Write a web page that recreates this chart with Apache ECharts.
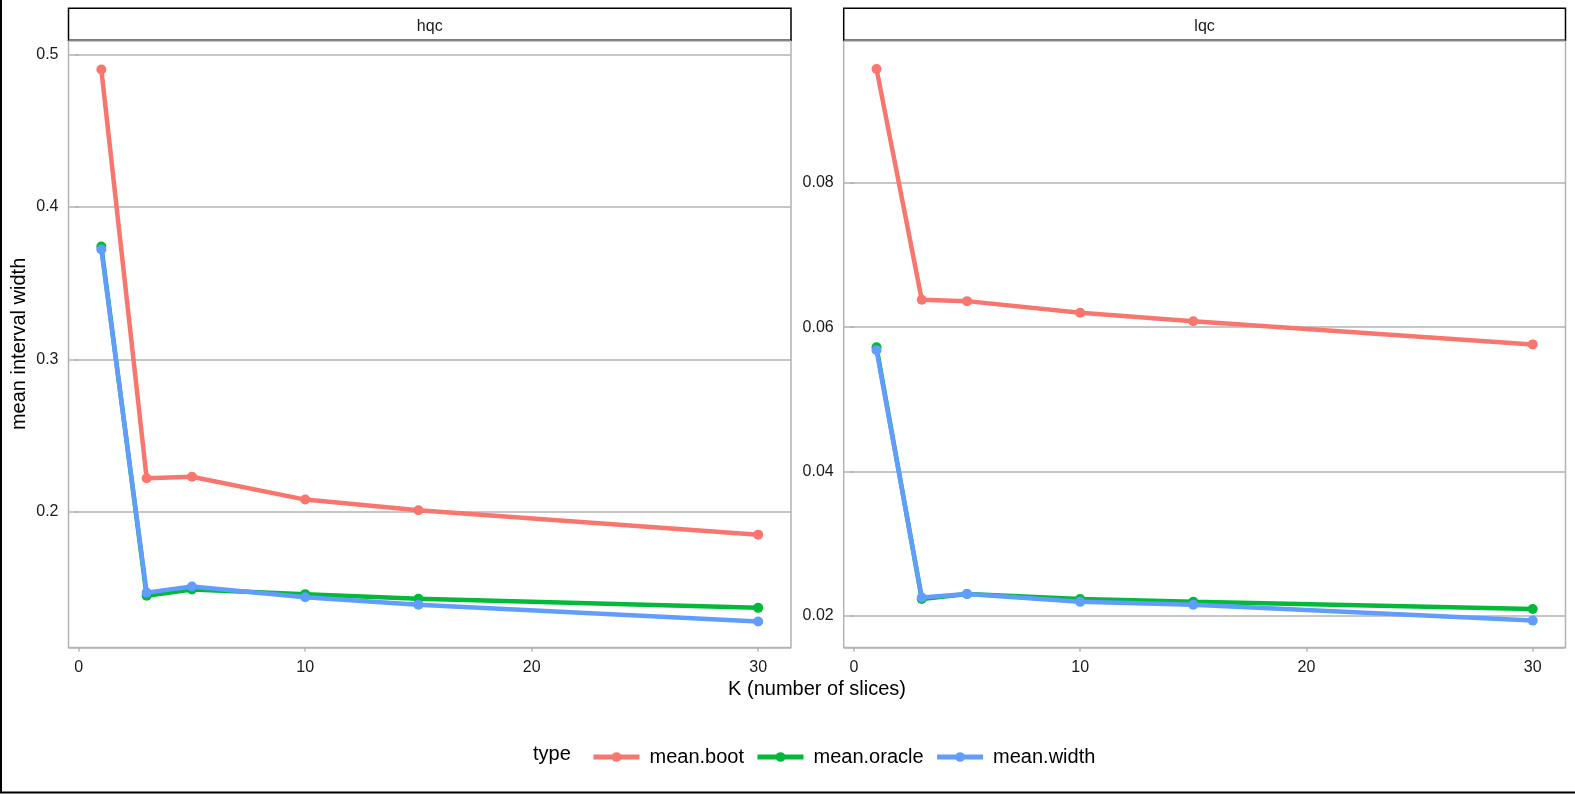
<!DOCTYPE html>
<html>
<head>
<meta charset="utf-8">
<title>mean interval width</title>
<script src="https://cdn.jsdelivr.net/npm/echarts@6/dist/echarts.min.js"></script>
<style>
    html, body { margin: 0; padding: 0; background: #ffffff; }
    #chart { width: 1575px; height: 794px; }
</style>
</head>
<body>
<div id="chart"></div>
<script>

var K = [1, 3, 5, 10, 15, 30];
var panels = ['hqc', 'lqc'];
var types = ['mean.boot', 'mean.oracle', 'mean.width'];

// hqc panel
var hqc_boot   = [0.490, 0.222, 0.223, 0.208, 0.201, 0.185];
var hqc_oracle = [0.374, 0.145, 0.149, 0.146, 0.143, 0.137];
var hqc_width  = [0.372, 0.147, 0.151, 0.144, 0.139, 0.128];

// lqc panel
var lqc_boot   = [0.0958, 0.0638, 0.0636, 0.0620, 0.0608, 0.0576];
var lqc_oracle = [0.0572, 0.0223, 0.0230, 0.0223, 0.0219, 0.0209];
var lqc_width  = [0.0568, 0.0225, 0.0230, 0.0219, 0.0215, 0.0193];

var colors = ['#F8766D', '#00BA38', '#619CFF'];
var font = "'Liberation Sans', Arial, Helvetica, sans-serif";
var gridGray = '#b3b3b3';

// panel boxes (px)
var boxes = [
    {left: 68.5, top: 40.3, width: 722.5, height: 607.2},
    {left: 843.7, top: 40.3, width: 721.8, height: 607.2}
];
var yRanges = [[0.111, 0.5092], [0.01557, 0.09977]];


function pairs(values) {
    var out = [];
    for (var i = 0; i < K.length; i++) {
        out.push([K[i], values[i]]);
    }
    return out;
}


function buildOption() {

    var data = [
        [hqc_boot, hqc_oracle, hqc_width],
        [lqc_boot, lqc_oracle, lqc_width]
    ];

    var grids = [], xAxes = [], yAxes = [], series = [], graphics = [];

    for (var p = 0; p < panels.length; p++) {

        var b = boxes[p];

        grids.push({
            left: b.left, top: b.top, width: b.width, height: b.height,
            show: true,
            borderColor: gridGray,
            borderWidth: 1.5,
            backgroundColor: '#ffffff'
        });

        xAxes.push({
            type: 'value',
            gridIndex: p,
            min: -0.45,
            max: 31.45,
            splitNumber: 3,
            axisLine: {show: false},
            axisTick: {show: true, length: 4, lineStyle: {color: gridGray, width: 1.5}},
            splitLine: {show: false},
            axisLabel: {
                fontFamily: font, fontSize: 16, color: '#1a1a1a', margin: 12,
                showMinLabel: false, showMaxLabel: false
            }
        });

        yAxes.push({
            type: 'value',
            gridIndex: p,
            min: yRanges[p][0],
            max: yRanges[p][1],
            splitNumber: 4,
            axisLine: {show: false},
            axisTick: {show: true, length: 4, lineStyle: {color: gridGray, width: 1.5}},
            splitLine: {show: true, lineStyle: {color: gridGray, width: 1.5}},
            axisLabel: {
                fontFamily: font, fontSize: 16, color: '#1a1a1a', margin: 10,
                showMinLabel: false, showMaxLabel: false
            },
            name: p === 0 ? 'mean interval width' : '',
            nameLocation: 'middle',
            nameGap: 39,
            nameTextStyle: {fontFamily: font, fontSize: 20, color: '#000000'}
        });

        for (var t = 0; t < types.length; t++) {
            series.push({
                name: types[t],
                type: 'line',
                xAxisIndex: p,
                yAxisIndex: p,
                data: pairs(data[p][t]),
                symbol: 'circle',
                symbolSize: 10,
                showSymbol: true,
                color: colors[t],
                lineStyle: {width: 4.5, color: colors[t]},
                itemStyle: {color: colors[t]},
                animation: false,
                z: 2 + t
            });
        }

        //----------- strip on top of the panel ---------//
        graphics.push({
            type: 'rect',
            shape: {x: b.left, y: 8.3, width: b.width, height: 32},
            style: {fill: '#ffffff', stroke: '#000000', lineWidth: 1.5}
        });
        graphics.push({
            type: 'text',
            x: b.left + b.width / 2,
            y: 26.5,
            style: {
                text: panels[p], fontFamily: font, fontSize: 16, fill: '#1a1a1a',
                textAlign: 'center', textVerticalAlign: 'middle'
            }
        });
    }

    // shared x title
    graphics.push({
        type: 'text',
        x: 817,
        y: 689,
        style: {
            text: 'K (number of slices)', fontFamily: font, fontSize: 20, fill: '#000000',
            textAlign: 'center', textVerticalAlign: 'middle'
        }
    });

    // legend title
    graphics.push({
        type: 'text',
        x: 533,
        y: 754,
        style: {
            text: 'type', fontFamily: font, fontSize: 20, fill: '#000000',
            textAlign: 'left', textVerticalAlign: 'middle'
        }
    });

    // outer frame (left and bottom edge)
    graphics.push({
        type: 'polyline',
        shape: {points: [[1, 0], [1, 792.5], [1575, 792.5]]},
        style: {stroke: '#000000', lineWidth: 2, fill: null}
    });

    return {
        backgroundColor: '#ffffff',
        animation: false,
        grid: grids,
        xAxis: xAxes,
        yAxis: yAxes,
        series: series,
        legend: {
            data: types,
            left: 586,
            top: 742,
            itemWidth: 46,
            itemHeight: 12,
            itemGap: 11,
            lineStyle: {width: 5},
            textStyle: {fontFamily: font, fontSize: 20, color: '#000000', padding: [0, 0, 0, 5]}
        },
        graphic: graphics
    };
}


var chart = echarts.init(document.getElementById('chart'));
chart.setOption(buildOption());

</script>
</body>
</html>
